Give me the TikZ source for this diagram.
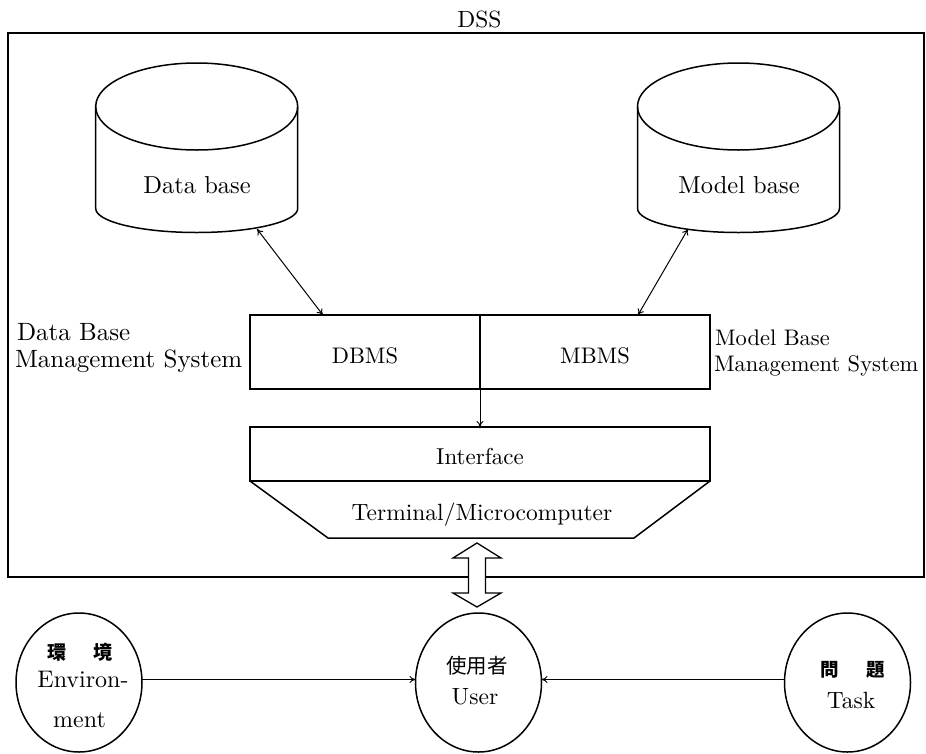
\documentclass[tikz,border=0pt]{standalone}
\usepackage{fontspec}
\setmainfont{lmroman10-regular.otf}
\newfontfamily\cjk{Noto Sans CJK JP}
\usetikzlibrary{arrows.meta,shapes.geometric,calc}
\newcommand\setsz[1]{\fontsize{#1}{#1}\selectfont}

\begin{document}
\begin{tikzpicture}[x=1pt,y=-1pt,
  every node/.style={inner sep=0pt, outer sep=0pt},
  outline/.style={draw, line width=1.5pt},
  link/.style={line width=1pt},
  >={To[length=6pt,width=7pt]},
  bubble/.style={ellipse, outline, minimum width=126, minimum height=139},
  drum/.pic={
    \draw[line width=1.5pt] (0,0) ellipse[x radius=101, y radius=43.5];
    \draw[line width=1.5pt] (-101,0) -- (-101,102)
      arc[start angle=180, end angle=0, x radius=101, y radius=24] -- (101,0);
  }]
\useasboundingbox (0,0) rectangle (926,753);

% system frame
\node[font=\setsz{23.5}] (dss) at (479.5,19.5) {DSS};
\node[outline, minimum width=916, minimum height=544] (dssbox) at (466,305) {};

% storage drums
\pic (dbdrum) at (196.7,106.5) {drum};
\pic (mbdrum) at (738.5,106.5) {drum};
\node[font=\setsz{24.5}, anchor=base] (dbtxt) at (197,193) {Data base};
\node[font=\setsz{24.5}, anchor=base] (mbtxt) at (739,193) {Model base};
\coordinate (dbfoot) at (257,229);
\coordinate (mbfoot) at (688,229);

% management systems
\node[outline, minimum width=230, minimum height=74, font=\setsz{22.5},
      text height=22pt, text depth=0pt] (dbms) at (365,352) {DBMS};
\node[outline, minimum width=230, minimum height=74, font=\setsz{22.5},
      text height=22pt, text depth=0pt] (mbms) at (595,352) {MBMS};
\node[font=\setsz{25}, anchor=base west] (dblbla) at (17,340) {Data Base};
\node[font=\setsz{25}, anchor=base west] (dblblb) at (15,367) {Management System};
\node[font=\setsz{22.5}, anchor=base west] (mblbla) at (715,345) {Model Base};
\node[font=\setsz{22.5}, anchor=base west] (mblblb) at (714,371) {Management System};

% interface and terminal
\node[outline, minimum width=460, minimum height=54, font=\setsz{23},
      text height=20pt, text depth=0pt] (iface) at (480,454) {Interface};
\draw[line width=1.5pt, line join=miter] (iface.south west) -- ++(78,57)
  -- ($(iface.south east)+(-76,57)$) -- (iface.south east);
\node[font=\setsz{23.5}, anchor=base] (term) at (482,520) {Terminal/Microcomputer};

% links
\draw[link,<->] (dbfoot) -- ($(dbms.north west)!0.317!(dbms.north east)$);
\draw[link,<->] (mbfoot) -- ($(mbms.north west)!0.687!(mbms.north east)$);
\draw[link,->] (dbms.south east) -- (iface.north);

% actors
\node[bubble] (env) at (79,682.5) {};
\node[bubble] (user) at (478.5,682.5) {};
\node[bubble] (task) at (847.5,682.5) {};
\node[font=\cjk\bfseries\setsz{19}] (envjp) at (80,652.5) {環\hspace{28pt}境};
\node[font=\setsz{24}, anchor=base] (enven) at (83,687) {Environ-};
\node[font=\setsz{24}, anchor=base] (envment) at (79.5,727) {ment};
\node[font=\cjk\setsz{20.5}] (userjp) at (477,666) {使用者};
\node[font=\setsz{23.5}, anchor=base] (useren) at (475,704) {User};
\node[font=\cjk\bfseries\setsz{18.5}] (taskjp) at (852.5,670) {問\hspace{27pt}題};
\node[font=\setsz{23.5}, anchor=base] (tasken) at (851,708) {Task};

\draw[link,->] ($(env.east)+(0,-3)$) -- ($(user.west)+(0,-3)$);
\draw[link,->] ($(task.west)+(0,-3)$) -- ($(user.east)+(0,-3)$);

% two-way block arrow between terminal and user
\coordinate (ua) at (477,543);
\coordinate (ub) at (477,607);
\draw[line width=1.3pt, fill=white, line join=miter] (ua) -- ++(24,15) -- ++(-15.5,0)
  -- ++(0,35) -- ++(15.5,0) -- (ub) -- ++(-24,-14) -- ++(15.5,0)
  -- ++(0,-35) -- ++(-15.5,0) -- cycle;
\end{tikzpicture}
\end{document}
